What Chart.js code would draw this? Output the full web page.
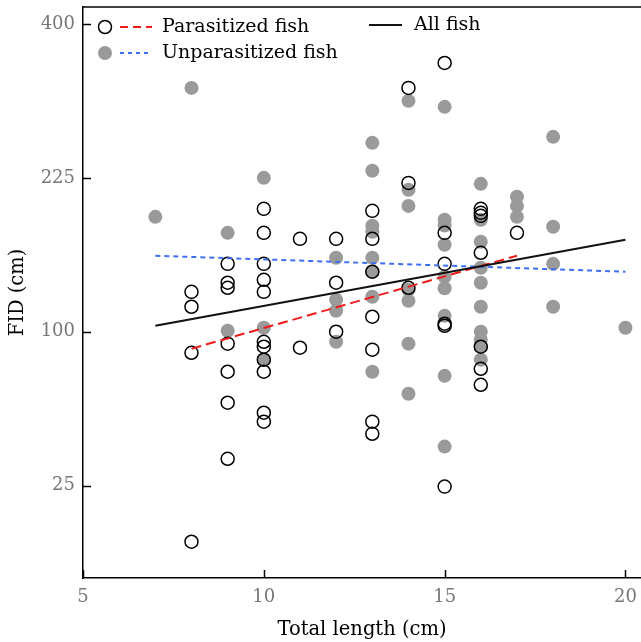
<!DOCTYPE html>
<html>
<head>
<meta charset="utf-8">
<script src="https://cdn.jsdelivr.net/npm/chart.js@4.4.1/dist/chart.umd.min.js"></script>
<style>
html, body { margin: 0; padding: 0; background: #fff; }
canvas { display: block; }
</style>
</head>
<body>
<canvas id="fid_chart" width="641" height="642"></canvas>
<script>
// DATA (FID in cm, total length in cm)
const para_length = [8, 8, 8, 8,
	9, 9, 9, 9, 9, 9, 9,
	10, 10, 10, 10, 10, 10, 10, 10, 10, 10, 10,
	11, 11,
	12, 12, 12,
	13, 13, 13, 13, 13, 13, 13,
	14, 14, 14,
	15, 15, 15, 15, 15, 15,
	16, 16, 16, 16, 16, 16, 16,
	17];
const para_fid = [127.6, 116.9, 86.8, 10.1,
	149.0, 134.4, 130.6, 92.4, 75.7, 59.2, 34.5,
	195.8, 174.6, 149.0, 136.6, 127.6, 93.6, 90.5, 82.7, 75.7, 54.3, 50.1,
	169.5, 89.9,
	169.5, 134.4, 100,
	194.0, 169.5, 142.8, 110.0, 88.7, 50.1, 44.7,
	321.2, 220.1, 130.6,
	350.9, 174.6, 149.0, 105.3, 103.9, 24.7,
	195.8, 192.2, 189.5, 157.9, 90.5, 77.4, 68.5,
	174.6];

const unpara_length = [7,
	8,
	9, 9,
	10, 10, 10,
	12, 12, 12, 12,
	13, 13, 13, 13, 13, 13, 13, 13,
	14, 14, 14, 14, 14, 14, 14,
	15, 15, 15, 15, 15, 15, 15, 15, 15,
	16, 16, 16, 16, 16, 16, 16, 16, 16, 16,
	17, 17, 17,
	18, 18, 18, 18,
	20];
const unpara_fid = [188.6,
	321.2,
	174.6, 100.6,
	225, 102.6, 82.7,
	153.8, 121.9, 114.1, 93.6,
	260.4, 231.9, 180.7, 175.5, 153.8, 142.8, 124.0, 75.7,
	306.3, 213.5, 198.5, 129.1, 121.1, 92.4, 63.8,
	299.5, 186.0, 181.0, 164.5, 138.9, 130.3, 110.6, 73.4, 39.3,
	219.2, 186.0, 167.0, 145.9, 134.4, 116.9, 100, 94.9, 90.5, 82.7,
	206.9, 198.5, 188.6,
	266.7, 179.8, 149.0, 116.9,
	102.6];

// fitted lines (end points)
const para_fit_length = [8, 17];
const para_fit_fid = [89.3, 155.5];
const unpara_fit_length = [7, 20];
const unpara_fit_fid = [155.5, 142.8];
const all_fit_length = [7, 20];
const all_fit_fid = [103.9, 168.7];

const fid_ticks = [25, 100, 225, 400];
const length_ticks = [5, 10, 15, 20];

// y axis is square-root scaled
function toPoints(xs, ys){
	return xs.map((x, i) => ({ x: x, y: Math.sqrt(ys[i]) }));
}

const FONT = "'DejaVu Serif', serif";
const RED = '#ee1c1c';
const BLUE = '#3d6ff5';
const GREY = '#9a9a9a';

// inward tick marks + top border
const axis_extras = {
	id: 'axis_extras',
	afterDraw(chart){
		const { ctx, chartArea, scales } = chart;
		ctx.save();
		ctx.strokeStyle = '#000';
		ctx.lineWidth = 1.5;
		scales.x.ticks.forEach(t => {
			const px = Math.round(scales.x.getPixelForValue(t.value)) + 0.5;
			ctx.beginPath();
			ctx.moveTo(px, chartArea.bottom);
			ctx.lineTo(px, chartArea.bottom - 8);
			ctx.stroke();
		});
		scales.y.ticks.forEach(t => {
			const py = Math.round(scales.y.getPixelForValue(t.value)) + 0.5;
			ctx.beginPath();
			ctx.moveTo(chartArea.left, py);
			ctx.lineTo(chartArea.left + 8, py);
			ctx.stroke();
		});
		ctx.beginPath();
		ctx.moveTo(chartArea.left, chartArea.top);
		ctx.lineTo(chartArea.right, chartArea.top);
		ctx.stroke();
		ctx.restore();
	}
};

// legend drawn by hand (marker + line per item)
const fish_legend = {
	id: 'fish_legend',
	afterDraw(chart){
		const ctx = chart.ctx;
		ctx.save();
		ctx.font = '19px ' + FONT;
		ctx.textBaseline = 'middle';
		ctx.fillStyle = '#000';

		// Parasitized
		ctx.beginPath();
		ctx.arc(105, 27, 6.5, 0, Math.PI * 2);
		ctx.strokeStyle = '#000';
		ctx.lineWidth = 1.5;
		ctx.stroke();
		ctx.beginPath();
		ctx.setLineDash([8, 5]);
		ctx.strokeStyle = RED;
		ctx.lineWidth = 2;
		ctx.moveTo(120, 27);
		ctx.lineTo(152, 27);
		ctx.stroke();
		ctx.fillText('Parasitized fish', 162, 27);

		// Unparasitized
		ctx.setLineDash([]);
		ctx.beginPath();
		ctx.arc(105, 53, 7, 0, Math.PI * 2);
		ctx.fillStyle = GREY;
		ctx.fill();
		ctx.beginPath();
		ctx.setLineDash([4, 4]);
		ctx.strokeStyle = BLUE;
		ctx.moveTo(120, 53);
		ctx.lineTo(152, 53);
		ctx.stroke();
		ctx.fillStyle = '#000';
		ctx.fillText('Unparasitized fish', 162, 53);

		// All
		ctx.setLineDash([]);
		ctx.beginPath();
		ctx.strokeStyle = '#111';
		ctx.moveTo(369, 25);
		ctx.lineTo(402, 25);
		ctx.stroke();
		ctx.fillText('All fish', 414, 25);
		ctx.restore();
	}
};

const ctx = document.getElementById('fid_chart').getContext('2d');

const my_chart = new Chart(ctx, {
	type: 'scatter',
	data: {
		datasets: [{
			label: 'All fish',
			data: toPoints(all_fit_length, all_fit_fid),
			showLine: true,
			borderColor: '#111',
			borderWidth: 2,
			pointRadius: 0,
			order: 0
		}, {
			label: 'Parasitized fit',
			data: toPoints(para_fit_length, para_fit_fid),
			showLine: true,
			borderColor: RED,
			borderWidth: 2,
			borderDash: [10, 5],
			pointRadius: 0,
			order: 0
		}, {
			label: 'Unparasitized fit',
			data: toPoints(unpara_fit_length, unpara_fit_fid),
			showLine: true,
			borderColor: BLUE,
			borderWidth: 2,
			borderDash: [5, 4],
			pointRadius: 0,
			order: 0
		}, {
			label: 'Parasitized fish',
			data: toPoints(para_length, para_fid),
			pointRadius: 6.5,
			pointBorderWidth: 1.5,
			pointBorderColor: '#000',
			pointBackgroundColor: 'rgba(0,0,0,0)',
			order: 1
		}, {
			label: 'Unparasitized fish',
			data: toPoints(unpara_length, unpara_fid),
			pointRadius: 7,
			pointBorderWidth: 0,
			pointBackgroundColor: GREY,
			order: 2
		}]
	},
	options: {
		responsive: false,
		animation: false,
		layout: { autoPadding: false, padding: { top: 7, right: 0, left: 0, bottom: 0 } },
		plugins: {
			legend: { display: false },
			tooltip: { enabled: false }
		},
		scales: {
			x: {
				type: 'linear',
				min: 5,
				max: 20.43,
				afterBuildTicks: scale => { scale.ticks = length_ticks.map(v => ({ value: v })); },
				afterFit: scale => {
					scale.height = 64;
					scale.paddingLeft = 0;
					scale.paddingRight = 0;
				},
				grid: { display: false, drawTicks: false },
				border: { color: '#000', width: 1.5 },
				ticks: {
					padding: 9,
					color: '#777',
					font: { family: FONT, size: 18 },
					maxRotation: 0
				},
				title: {
					display: true,
					text: 'Total length (cm)',
					color: '#000',
					font: { family: FONT, size: 19.5 },
					padding: { top: 3, bottom: 0 }
				}
			},
			y: {
				type: 'linear',
				min: 2.0,
				max: 20.55,
				afterBuildTicks: scale => { scale.ticks = fid_ticks.map(v => ({ value: Math.sqrt(v) })); },
				afterFit: scale => {
					scale.width = 83;
					scale.paddingTop = 0;
					scale.paddingBottom = 0;
				},
				grid: { display: false, drawTicks: false },
				border: { color: '#000', width: 1.5 },
				ticks: {
					padding: 8,
					color: '#777',
					font: { family: FONT, size: 18 },
					callback: val => Math.round(val * val)
				},
				title: {
					display: true,
					text: 'FID (cm)',
					color: '#000',
					font: { family: FONT, size: 19.5 },
					padding: { top: 6, bottom: 0 }
				}
			}
		}
	},
	plugins: [axis_extras, fish_legend]
});
</script>
</body>
</html>
